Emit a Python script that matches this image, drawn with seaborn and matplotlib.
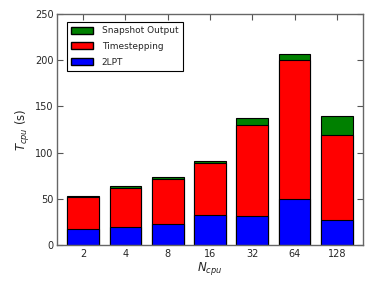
import matplotlib
matplotlib.use('Agg')
import matplotlib.pyplot as plt
import seaborn as sns
import pandas as pd
from matplotlib.patches import Patch

# values
n_cpu = ['2', '4', '8', '16', '32', '64', '128']
t_2lpt = [17, 20, 23, 32.5, 31, 50, 27.5]
t_timestep = [35, 42, 49, 56, 99, 150, 92]
t_snapshot = [1, 2, 2, 2, 7.5, 7, 20]

df = pd.DataFrame({'ncpu': n_cpu, '2lpt': t_2lpt, 'step': t_timestep, 'snap': t_snapshot})
df['cum_step'] = df['2lpt'] + df['step']
df['cum_snap'] = df['cum_step'] + df['snap']

sns.set_style('ticks')
plt.rcParams['font.family'] = ['DejaVu Sans']
plt.rcParams['mathtext.fontset'] = 'dejavusans'

fig = plt.figure(figsize=(3.74, 2.82), dpi=100)
ax = fig.add_axes([0.152, 0.131, 0.819, 0.819])

kw = dict(x='ncpu', order=n_cpu, width=0.75, edgecolor='black', linewidth=0.8, ax=ax)
sns.barplot(data=df, y='cum_snap', color='green', saturation=1, **kw)
sns.barplot(data=df, y='cum_step', color='red', saturation=1, **kw)
sns.barplot(data=df, y='2lpt', color='blue', saturation=1, **kw)

ax.set_xlim(-0.62, 6.62)
ax.set_ylim(0, 250)
ax.set_yticks([0, 50, 100, 150, 200, 250])
ax.set_xlabel(r'$N_{cpu}$', fontsize=8.5, labelpad=1)
ax.set_ylabel(r'$T_{cpu}$ (s)', fontsize=8.5, labelpad=2)
ax.tick_params(direction='in', top=True, right=True, labelsize=7, length=4, pad=2.5,
               color='#555555')
for s in ax.spines.values():
    s.set_color('#666666')
    s.set_linewidth(1.0)

handles = [Patch(facecolor='green', edgecolor='black', label='Snapshot Output'),
           Patch(facecolor='red', edgecolor='black', label='Timestepping'),
           Patch(facecolor='blue', edgecolor='black', label='2LPT')]
leg = ax.legend(handles=handles, loc='upper left', bbox_to_anchor=(0.032, 0.967),
                borderaxespad=0, fontsize=6.5, fancybox=False, framealpha=1,
                edgecolor='black', handlelength=2.4, handleheight=0.8,
                handletextpad=1.0, labelspacing=0.75, borderpad=0.5)
leg.get_frame().set_linewidth(0.8)

fig.savefig('out.png', dpi=100)
